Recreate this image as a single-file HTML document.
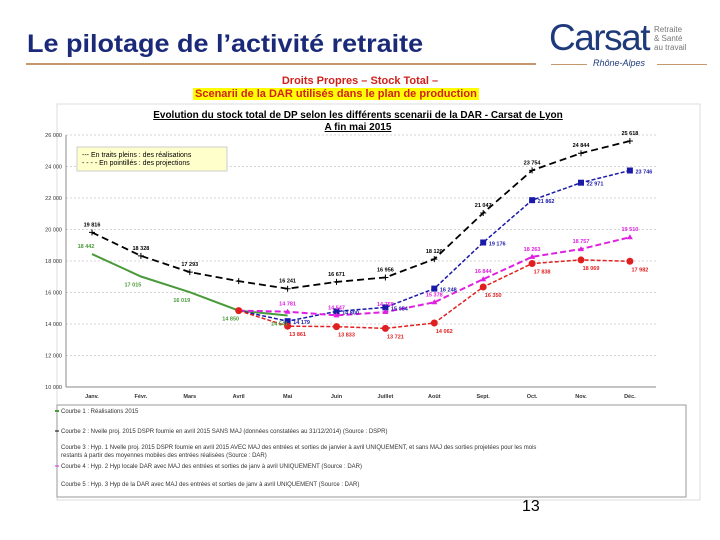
<!DOCTYPE html>
<html><head><meta charset="utf-8"><style>
body{margin:0;width:720px;height:540px;background:#fff;overflow:hidden;font-family:"Liberation Sans",sans-serif;position:relative}
.abs{position:absolute}
</style></head><body>
<div class="abs" style="left:27px;top:30px;font-size:25px;font-weight:bold;color:#1a2a78;transform:scaleX(1.08);transform-origin:left top;white-space:nowrap">Le pilotage de l’activité retraite</div>
<div class="abs" style="left:26px;top:63px;width:510px;height:2px;background:#c49a6c"></div>
<div class="abs" style="left:549px;top:20px;width:160px;height:55px">
 <div class="abs" style="left:0;top:0;font-size:37px;line-height:36px;color:#1e3a7a;letter-spacing:-1.5px">Carsat</div>
 <div class="abs" style="left:105px;top:5px;font-size:8px;line-height:9px;color:#777">Retraite<br>&amp; Santé<br>au travail</div>
 <div class="abs" style="left:2px;top:44px;width:36px;height:1px;background:#c49a6c"></div>
 <div class="abs" style="left:44px;top:38px;font-size:9px;font-style:italic;color:#1e3a7a">Rhône-Alpes</div>
 <div class="abs" style="left:108px;top:44px;width:50px;height:1px;background:#c49a6c"></div>
</div>
<div class="abs" style="left:0;width:720px;top:75px;text-align:center;font-size:11px;font-weight:bold;color:#d2201c">Droits Propres – Stock Total –</div>
<div class="abs" style="left:193px;top:88px;font-size:11px;font-weight:bold;color:#d2201c;background:#ffff00;padding:0 2px">Scenarii de la DAR utilisés dans le plan de production</div>
<svg class="abs" style="left:0;top:0" width="720" height="540">
 <rect x="57" y="104" width="643" height="396" fill="#fff" stroke="#ddd"/>
 <text x="358" y="118" font-size="10" font-weight="bold" text-anchor="middle" text-decoration="underline">Evolution du stock total de DP selon les différents scenarii de la DAR - Carsat de Lyon</text>
 <text x="358" y="130" font-size="10" font-weight="bold" text-anchor="middle" text-decoration="underline">A fin mai 2015</text>
 <g id="grid"></g><g id="series"></g><g id="labels"></g>
 <rect x="77" y="147" width="150" height="24" fill="#ffffcc" stroke="#ccc"/>
 <text x="82" y="157" font-size="7">--- En traits pleins : des réalisations</text>
 <text x="82" y="165" font-size="7">- - - - En pointillés : des projections</text>
 <rect x="57" y="405" width="629" height="92" fill="#fff" stroke="#999"/>
 <g font-size="6" fill="#333">
 <line x1="55" y1="411" x2="59" y2="411" stroke="#4a9a3a" stroke-width="2"/><text x="61" y="413">Courbe 1 : Réalisations 2015</text>
 <line x1="55" y1="431" x2="59" y2="431" stroke="#000" stroke-width="1"/><text x="61" y="433">Courbe 2 : Nvelle proj. 2015 DSPR fournie en avril 2015 SANS MAJ (données constatées au 31/12/2014) (Source : DSPR)</text>
 <text x="61" y="449">Courbe 3 : Hyp. 1    Nvelle proj. 2015 DSPR fournie en avril 2015 AVEC MAJ des entrées et sorties de janvier à avril UNIQUEMENT, et sans MAJ des sorties projetées pour les mois</text>
 <text x="61" y="457">restants à partir des moyennes mobiles des entrées réalisées (Source : DAR)</text>
 <line x1="55" y1="466" x2="59" y2="466" stroke="#e020e0" stroke-width="1"/><text x="61" y="468">Courbe 4 : Hyp. 2    Hyp locale DAR avec MAJ des entrées et sorties de janv à avril UNIQUEMENT (Source : DAR)</text>
 <text x="61" y="486">Courbe 5 : Hyp. 3    Hyp de la DAR avec MAJ des entrées et sorties de janv à avril UNIQUEMENT (Source : DAR)</text>
 </g>
</svg>
<div class="abs" style="left:522px;top:498px;font-size:16px">13</div>
<script>
const months=["Janv.","Févr.","Mars","Avril","Mai","Juin","Juillet","Août","Sept.","Oct.","Nov.","Déc."];
const yTicks=[10000,12000,14000,16000,18000,20000,22000,24000,26000];
const yTickLabels=["10 000","12 000","14 000","16 000","18 000","20 000","22 000","24 000","26 000"];
const courbe1=[18442,17015,16019,14850,14541,null,null,null,null,null,null,null];
const courbe2=[19816,18328,17293,16720,16241,16671,16956,18120,21047,23754,24844,25618];
const courbe3=[null,null,null,14850,14179,14800,15054,16248,19176,21862,22971,23746];
const courbe4=[null,null,null,14850,14781,14547,14758,15378,16844,18263,18757,19510];
const courbe5=[null,null,null,14850,13861,13833,13721,14062,16350,17838,18069,17982];
const NS="http://www.w3.org/2000/svg";
const X=i=>92+i*48.9, Y=v=>387-(v-10000)*252/16000;
function mk(t,a,p){const e=document.createElementNS(NS,t);for(const k in a)e.setAttribute(k,a[k]);p.appendChild(e);return e;}
const g=document.getElementById('grid'),s=document.getElementById('series'),L=document.getElementById('labels');
yTicks.forEach((v,i)=>{
 const l=mk('line',{x1:66,x2:656,y1:Y(v),y2:Y(v),stroke:'#aaa','stroke-dasharray':'2,2','stroke-width':0.6},g);
 
 
 const t=mk('text',{x:62,y:Y(v)+2,'font-size':5.5,'text-anchor':'end',fill:'#333'},g);t.textContent=yTickLabels[i];
 
 
});
mk('line',{x1:66,x2:66,y1:Y(26000),y2:Y(10000),stroke:'#888'},g);
mk('line',{x1:66,x2:656,y1:Y(10000),y2:Y(10000),stroke:'#888'},g);
months.forEach((m,i)=>{const t=mk('text',{x:X(i),y:398,'font-size':5.5,'font-weight':'bold','text-anchor':'middle',fill:'#333'},g);t.textContent=m;
 
 });
const series=[
 {d:courbe1,c:'#4a9a3a',w:2,da:'',m:'none',n:'series-realisations',dx:-8,dy:10},
 {d:courbe2,c:'#000',w:1.8,da:'7,4',m:'plus',n:'series-courbe2',dx:0,dy:-6},
 {d:courbe3,c:'#1a1aa8',w:1.5,da:'4,2',m:'square',n:'series-hyp1',dx:14,dy:3},
 {d:courbe4,c:'#e020e0',w:2,da:'6,3',m:'tri',n:'series-hyp2',dx:0,dy:-6},
 {d:courbe5,c:'#e02020',w:1.5,da:'4,2',m:'circle',n:'series-hyp3',dx:10,dy:10}];
series.forEach(S=>{
 const pts=S.d.map((v,i)=>v==null?null:[X(i),Y(v)]).filter(p=>p);
 const p=mk('path',{d:'M'+pts.map(p=>p.join(',')).join('L'),fill:'none',stroke:S.c,'stroke-width':S.w,'stroke-dasharray':S.da},s);
 
 
 S.d.forEach((v,i)=>{if(v==null)return;const x=X(i),y=Y(v);
  if(S.m=='plus'){mk('path',{d:`M${x-3},${y}h6M${x},${y-3}v6`,stroke:S.c,'stroke-width':1},s);}
  else if(S.m=='square'&&i>3)mk('rect',{x:x-3,y:y-3,width:6,height:6,fill:S.c},s);
  else if(S.m=='tri'&&i>3)mk('path',{d:`M${x},${y-3}l3,5h-6z`,fill:S.c},s);
  else if(S.m=='circle')mk('circle',{cx:x,cy:y,r:3.5,fill:S.c},s);
  if(i==3&&S.d!==courbe1)return;
  let dy=S.dy,dx=S.dx;
  if(S.d===courbe1&&i==0){dy=-6;dx=-6;}
  const t=mk('text',{x:x+dx,y:y+dy,'font-size':5.5,'font-weight':'bold','text-anchor':'middle',fill:S.c},L);
  t.textContent=v.toLocaleString('fr-FR').replace(/\u202f|\u00a0/g,' ');
  
  
 });
});
</script>
</body></html>
